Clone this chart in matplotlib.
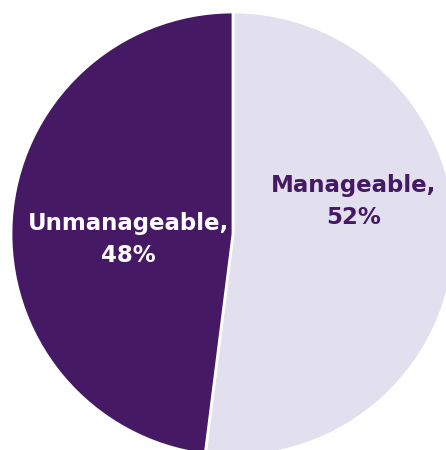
import matplotlib.pyplot as plt

labels = ["Manageable", "Unmanageable"]
shares = [52, 48]
colors = ["#E2DFEE", "#461964"]
text_colors = ["#461964", "#FFFFFF"]
# label anchor points inside the unit circle
label_pos = [(0.545, 0.145), (-0.47, -0.025)]

fig = plt.figure(figsize=(4.46, 4.50), dpi=100)
# circle centre at (233, 234) px, radius 222 px; the pie runs slightly off the right and bottom edges
ax = fig.add_axes([11 / 446, -6 / 450, 444 / 446, 444 / 450])

ax.pie(shares, colors=colors, startangle=90, counterclock=False, radius=1,
       wedgeprops=dict(edgecolor="white", linewidth=2))
ax.set_xlim(-1, 1)
ax.set_ylim(-1, 1)
ax.axis("off")

for lab, val, (x, y), c in zip(labels, shares, label_pos, text_colors):
    ax.text(x, y, f"{lab},\n{val}%", ha="center", va="center", color=c,
            fontsize=16.5, fontweight="bold", family="DejaVu Sans",
            linespacing=1.5)

fig.savefig("out.png", dpi=100)
